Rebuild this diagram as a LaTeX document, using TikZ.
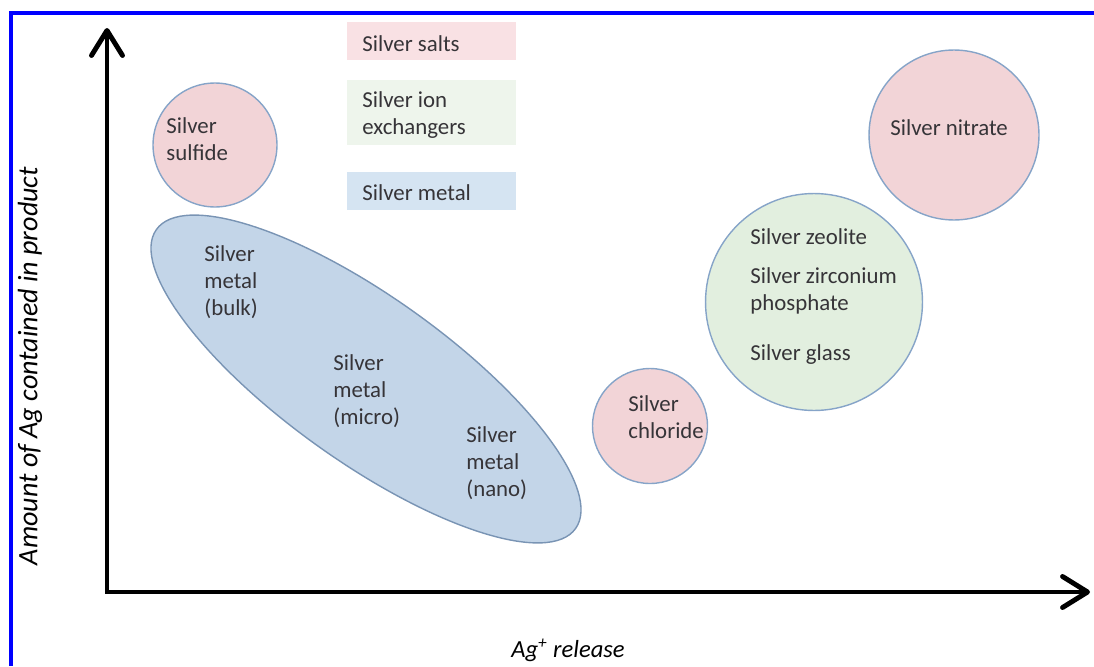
\documentclass[tikz,border=0pt]{standalone}
\usepackage{fontspec}
\setmainfont{Carlito}
\usetikzlibrary{arrows.meta,shapes.geometric}
\definecolor{saltfill}{HTML}{F2D4D7}
\definecolor{saltkey}{HTML}{F9E1E4}
\definecolor{ionfill}{HTML}{E2EFDF}
\definecolor{ionkey}{HTML}{EEF5EC}
\definecolor{metalfill}{HTML}{C3D5E8}
\definecolor{metalkey}{HTML}{D5E4F2}
\definecolor{rim}{HTML}{86A4C8}
\definecolor{inktext}{HTML}{363438}
\begin{document}
\begin{tikzpicture}
  [
    x = 0.02cm, y = -0.02cm,
    every node/.style = {font=\fontsize{13}{15.5}\selectfont},
    blob/.style       = {circle, draw=rim, line width=0.8pt, inner sep=0},
    txt/.style        = {anchor=west, inner sep=0, align=left, text=inktext},
    axis/.style       = {line width=2.8pt, line join=miter,
                         {Straight Barb[length=0.5cm,width=0.62cm,round]}-{Straight Barb[length=0.5cm,width=0.62cm,round]}}
  ]
 \useasboundingbox (0,0) rectangle (1094,666);
 % frame
 \draw[blue, line width=2.2pt] (11,666) -- (11,13) -- (1096,13);
 % key
 \fill[saltkey]  (347,22)  rectangle (516,60);
 \fill[ionkey]   (347,80)  rectangle (516,145);
 \fill[metalkey] (347,172) rectangle (516,210);
 \node[txt] (ksalt)  at (362,44)  {Silver salts};
 \node[txt] (kion)   at (362,115) {Silver ion\\exchangers};
 \node[txt] (kmetal) at (362,193) {Silver metal};
 % shapes
 \node[blob, fill=saltfill, minimum size=2.48cm] (sulfide)  at (215,145) {};
 \node[blob, fill=saltfill, minimum size=3.4cm]  (nitrate)  at (954,135) {};
 \node[blob, fill=saltfill, minimum size=2.3cm]  (chloride) at (650,426) {};
 \node[blob, fill=ionfill,  minimum size=4.34cm] (ion)      at (814,302) {};
 \node[ellipse, draw=rim!90!black, line width=0.8pt, fill=metalfill,
       minimum width=10.3cm, minimum height=3.3cm, rotate=-35.5] (metal) at (366,379) {};
 % texts
 \node[txt] (tsulfide)  at (166,139) {Silver\\sulfide};
 \node[txt] (tnitrate)  at (890,128) {Silver nitrate};
 \node[txt] (tchloride) at (628,417) {Silver\\chloride};
 \node[txt] (tzeolite)  at (750,237) {Silver zeolite};
 \node[txt] (tzircon)   at (750,291) {Silver zirconium\\phosphate};
 \node[txt] (tglass)    at (750,355) {Silver glass};
 \node[txt] (tbulk)     at (204,282) {Silver\\metal\\(bulk)};
 \node[txt] (tmicro)    at (333,391) {Silver\\metal\\(micro)};
 \node[txt] (tnano)     at (466,463) {Silver\\metal\\(nano)};
 % axes
 \coordinate (origin) at (107,592);
 \coordinate (ytip)   at (107,28);
 \coordinate (xtip)   at (1090,592);
 \draw[axis] (ytip) -- (origin) -- (xtip);
 \node[rotate=90, font=\fontsize{16}{19}\selectfont\itshape] (ylab) at (30,366)
   {Amount of Ag contained in product};
 \node[font=\fontsize{14}{17}\selectfont\itshape] (xlab) at (568,650)
   {Ag\textsuperscript{+} release};
\end{tikzpicture}
\end{document}
